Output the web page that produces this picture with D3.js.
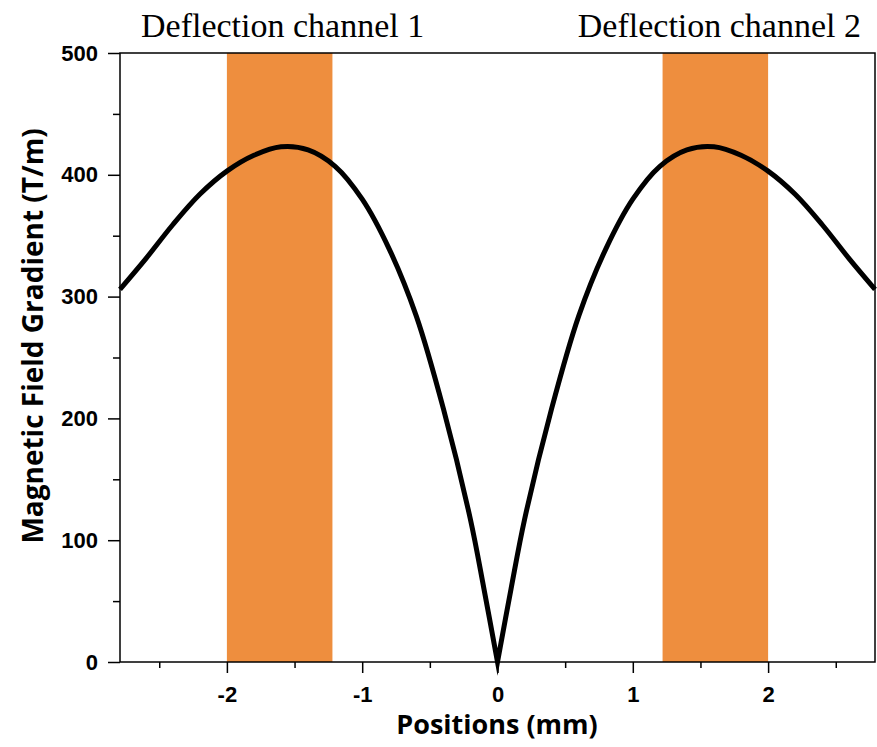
<!DOCTYPE html>
<html>
<head>
<meta charset="utf-8">
<script src="https://cdn.jsdelivr.net/npm/d3@7"></script>
<style>
  body { margin: 0; background: #fff; }
  .axis text { font-family: "Liberation Sans", Arial, sans-serif; font-weight: bold; font-size: 22px; fill: #000; }
  .axis path, .axis line { stroke: #000; stroke-width: 1.5px; }
</style>
</head>
<body>
<div id="chart"></div>
<script>
// positions (mm) and gradient (T/m)
var positions = [-2.79, -2.6, -2.4, -2.2, -2.0, -1.8, -1.6, -1.4, -1.2, -1.0, -0.8, -0.6, -0.4, -0.2, -0.1, 0,
                 0.1, 0.2, 0.4, 0.6, 0.8, 1.0, 1.2, 1.4, 1.6, 1.8, 2.0, 2.2, 2.4, 2.6, 2.79]
var gradient = [306, 331, 359, 384, 403, 416, 423, 420.5, 407, 380, 339, 284, 208, 117, 60, 0,
                60, 117, 208, 284, 339, 380, 407, 420.5, 423, 416, 403, 384, 359, 331, 306]

// deflection channel bands
var channelNames = ["Deflection channel 1", "Deflection channel 2"]
var channelStart = [-2.0, 1.22]
var channelEnd = [-1.22, 2.0]

var xTicks = [-2, -1, 0, 1, 2]
var xMinor = [-2.5, -1.5, -0.5, 0.5, 1.5, 2.5]
var yTicks = [0, 100, 200, 300, 400, 500]
var yMinor = [50, 150, 250, 350, 450]

var W = 877, H = 747
var margin = {left: 120, top: 53, right: 2, bottom: 85}

var svg = d3.select("#chart").append("svg")
  .attr("width", W)
  .attr("height", H)

var x = d3.scaleLinear().domain([-2.79, 2.79]).range([margin.left, W - margin.right])
var y = d3.scaleLinear().domain([0, 500]).range([H - margin.bottom, margin.top])

// orange bands
svg.selectAll("rect.band")
  .data(channelStart)
  .enter().append("rect")
  .attr("class", "band")
  .attr("x", function(d) { return x(d) })
  .attr("y", y(500))
  .attr("width", function(d, i) { return x(channelEnd[i]) - x(d) })
  .attr("height", y(0) - y(500))
  .attr("fill", "#EE8E3E")

// channel labels above the plot
svg.append("text")
  .attr("x", 141).attr("y", 37)
  .attr("font-family", "'Liberation Serif', 'Times New Roman', serif")
  .attr("font-size", 34)
  .text(channelNames[0])
svg.append("text")
  .attr("x", 861).attr("y", 37)
  .attr("text-anchor", "end")
  .attr("font-family", "'Liberation Serif', 'Times New Roman', serif")
  .attr("font-size", 34)
  .text(channelNames[1])

// curve: two branches joined at the cusp
var pts = positions.map(function(p, i) { return [p, gradient[i]] })
var line = d3.line()
  .x(function(d) { return x(d[0]) })
  .y(function(d) { return y(d[1]) })
  .curve(d3.curveCatmullRom.alpha(0.5))
var leftPath = line(pts.filter(function(d) { return d[0] <= 0 }))
var rightPath = line(pts.filter(function(d) { return d[0] >= 0 }))
svg.append("path")
  .attr("d", leftPath + rightPath.replace(/^M/, "L"))
  .attr("fill", "none")
  .attr("stroke", "#000")
  .attr("stroke-width", 5)
  .attr("stroke-linejoin", "miter")
  .attr("stroke-miterlimit", 20)

// frame
svg.append("rect")
  .attr("x", x.range()[0]).attr("y", y(500))
  .attr("width", x.range()[1] - x.range()[0])
  .attr("height", y(0) - y(500))
  .attr("fill", "none")
  .attr("stroke", "#000")
  .attr("stroke-width", 1.5)

// axes
svg.append("g").attr("class", "axis")
  .attr("transform", "translate(0," + y(0) + ")")
  .call(d3.axisBottom(x).tickValues(xTicks).tickSize(11).tickPadding(13).tickFormat(function(d) { return String(d) }))
  .call(function(g) { g.select(".domain").remove() })
svg.append("g").attr("class", "axis")
  .attr("transform", "translate(0," + y(0) + ")")
  .call(d3.axisBottom(x).tickValues(xMinor).tickSize(6).tickFormat(""))
  .call(function(g) { g.select(".domain").remove() })

svg.append("g").attr("class", "axis")
  .attr("transform", "translate(" + x.range()[0] + ",0)")
  .call(d3.axisLeft(y).tickValues(yTicks).tickSize(12).tickPadding(10))
  .call(function(g) { g.select(".domain").remove() })
svg.append("g").attr("class", "axis")
  .attr("transform", "translate(" + x.range()[0] + ",0)")
  .call(d3.axisLeft(y).tickValues(yMinor).tickSize(7).tickFormat(""))
  .call(function(g) { g.select(".domain").remove() })

// axis titles
svg.append("text")
  .attr("x", 497).attr("y", 734)
  .attr("text-anchor", "middle")
  .attr("font-family", "'Open Sans', sans-serif")
  .attr("font-weight", "bold")
  .attr("font-size", 27)
  .text("Positions (mm)")

svg.append("text")
  .attr("transform", "translate(43,336) rotate(-90)")
  .attr("text-anchor", "middle")
  .attr("font-family", "'Open Sans', sans-serif")
  .attr("font-weight", "bold")
  .attr("font-size", 28)
  .text("Magnetic Field Gradient (T/m)")
</script>
</body>
</html>
